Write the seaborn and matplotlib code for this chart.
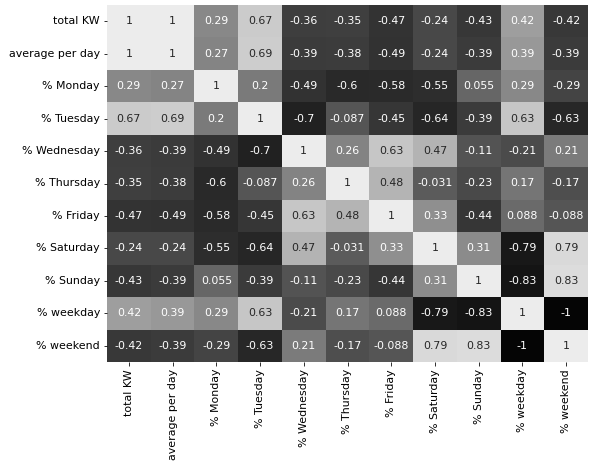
import numpy as np
import pandas as pd
import matplotlib
matplotlib.use("Agg")
import matplotlib.pyplot as plt
import seaborn as sns
from matplotlib.colors import LinearSegmentedColormap

labels = ["total KW", "average per day", "% Monday", "% Tuesday", "% Wednesday",
          "% Thursday", "% Friday", "% Saturday", "% Sunday", "% weekday", "% weekend"]

row_total_kw = [1, 1, 0.29, 0.67, -0.36, -0.35, -0.47, -0.24, -0.43, 0.42, -0.42]
row_avg_day = [1, 1, 0.27, 0.69, -0.39, -0.38, -0.49, -0.24, -0.39, 0.39, -0.39]
row_monday = [0.29, 0.27, 1, 0.2, -0.49, -0.6, -0.58, -0.55, 0.055, 0.29, -0.29]
row_tuesday = [0.67, 0.69, 0.2, 1, -0.7, -0.087, -0.45, -0.64, -0.39, 0.63, -0.63]
row_wednesday = [-0.36, -0.39, -0.49, -0.7, 1, 0.26, 0.63, 0.47, -0.11, -0.21, 0.21]
row_thursday = [-0.35, -0.38, -0.6, -0.087, 0.26, 1, 0.48, -0.031, -0.23, 0.17, -0.17]
row_friday = [-0.47, -0.49, -0.58, -0.45, 0.63, 0.48, 1, 0.33, -0.44, 0.088, -0.088]
row_saturday = [-0.24, -0.24, -0.55, -0.64, 0.47, -0.031, 0.33, 1, 0.31, -0.79, 0.79]
row_sunday = [-0.43, -0.39, 0.055, -0.39, -0.11, -0.23, -0.44, 0.31, 1, -0.83, 0.83]
row_weekday = [0.42, 0.39, 0.29, 0.63, -0.21, 0.17, 0.088, -0.79, -0.83, 1, -1]
row_weekend = [-0.42, -0.39, -0.29, -0.63, 0.21, -0.17, -0.088, 0.79, 0.83, -1, 1]

corr = pd.DataFrame([row_total_kw, row_avg_day, row_monday, row_tuesday, row_wednesday,
                     row_thursday, row_friday, row_saturday, row_sunday, row_weekday,
                     row_weekend], index=labels, columns=labels)

# grey ramp approximating the reference shading
anchors = [(0.0, 5), (0.15, 33), (0.255, 50), (0.32, 62), (0.5, 93), (0.645, 135),
           (0.71, 158), (0.735, 178), (0.815, 198), (0.895, 216), (1.0, 236)]
cmap = LinearSegmentedColormap.from_list(
    "refgray", [(p, (g / 255, g / 255, g / 255)) for p, g in anchors])

fig = plt.figure(figsize=(590 / 72, 462 / 72), dpi=72)
ax = fig.add_axes([107 / 590, 1 - 362 / 462, (588 - 107) / 590, (362 - 5) / 462])
sns.heatmap(corr, annot=True, cmap=cmap, vmin=-1, vmax=1, cbar=False, ax=ax,
            annot_kws={"fontsize": 11})
ax.tick_params(labelsize=11)
plt.setp(ax.get_xticklabels(), rotation=90)
plt.setp(ax.get_yticklabels(), rotation=0)
fig.savefig("out.png", dpi=72)
